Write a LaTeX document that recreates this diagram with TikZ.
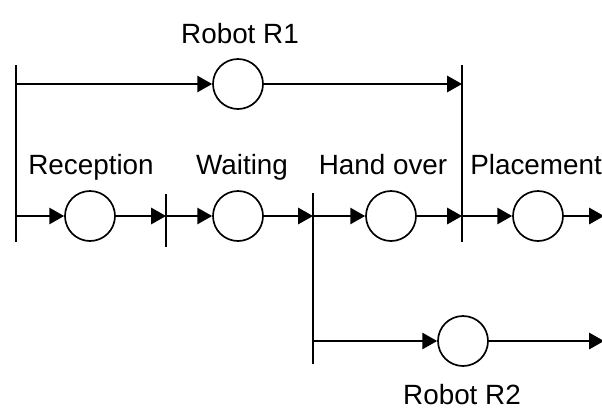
\documentclass[tikz,border=0pt]{standalone}
\usepackage{fontspec}
\setmainfont{Liberation Sans}
\usetikzlibrary{arrows.meta}

\tikzset{
  place/.style={draw, circle, line width=1.2pt, minimum size=1.25cm, inner sep=0pt},
  flow/.style={line width=1.4pt, -{Triangle[length=10.5pt,width=11.5pt]}},
  bar/.style={line width=1.4pt},
  lbl/.style={anchor=base, inner sep=0pt, font=\fontsize{19.8}{23}\selectfont}
}

\begin{document}
\begin{tikzpicture}[x=0.025cm, y=-0.025cm]
    \useasboundingbox (0,0) rectangle (602,409);

    % Transitions
    \draw[bar] (16,65) -- (16,242);
    \draw[bar] (166,194) -- (166,247);
    \draw[bar] (313,193) -- (313,364);
    \draw[bar] (462,65) -- (462,242);

    % Places
    \node[place] (r1) at (238,84) {};
    \node[place] (c1) at (90,216) {};
    \node[place] (c2) at (238,216) {};
    \node[place] (c3) at (391,216) {};
    \node[place] (c4) at (538,216) {};
    \node[place] (r2) at (463,341) {};

    % Points on the bars
    \coordinate (a0) at (16,84);
    \coordinate (a1) at (462,84);
    \coordinate (m0) at (16,216);
    \coordinate (m1) at (166,216);
    \coordinate (m2) at (313,216);
    \coordinate (m3) at (462,216);
    \coordinate (m4) at (604,216);
    \coordinate (b0) at (313,341);
    \coordinate (b1) at (604,341);

    % Arcs
    \draw[flow] (a0) -- (r1);
    \draw[flow] (r1) -- (a1);
    \draw[flow] (m0) -- (c1);
    \draw[flow] (c1) -- (m1);
    \draw[flow] (m1) -- (c2);
    \draw[flow] (c2) -- (m2);
    \draw[flow] (m2) -- (c3);
    \draw[flow] (c3) -- (m3);
    \draw[flow] (m3) -- (c4);
    \draw[flow] (c4) -- (m4);
    \draw[flow] (b0) -- (r2);
    \draw[flow] (r2) -- (b1);

    % Labels
    \node[lbl] (l1) at (240,43) {Robot R1};
    \node[lbl] (l2) at (91,174) {Reception};
    \node[lbl] (l3) at (242,174) {Waiting};
    \node[lbl] (l4) at (383,174) {Hand over};
    \node[lbl, anchor=base west] (l5) at (470,174) {Placement};
    \node[lbl] (l6) at (462,404) {Robot R2};

\end{tikzpicture}
\end{document}
